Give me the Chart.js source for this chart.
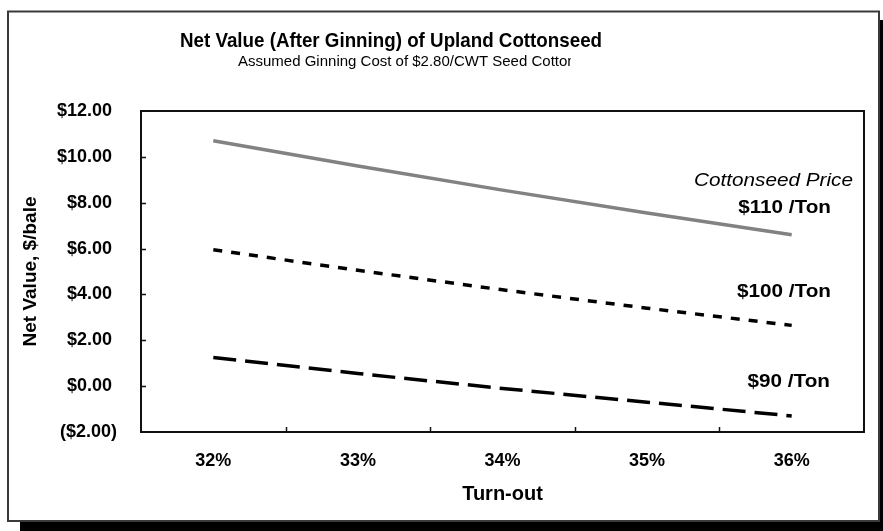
<!DOCTYPE html>
<html>
<head>
<meta charset="utf-8">
<script src="https://cdn.jsdelivr.net/npm/chart.js@4.4.1/dist/chart.umd.min.js"></script>
<style>
  html, body { margin: 0; padding: 0; background: #fff; overflow: hidden; }
  canvas { display: block; }
</style>
</head>
<body>
<canvas id="c" width="883" height="531"></canvas>
<script>
// Turn-out categories and net value per bale ($) at three cottonseed prices
const turnout = ['32%', '33%', '34%', '35%', '36%'];
const net110 = [10.70, 9.60, 8.55, 7.55, 6.60];
const net100 = [5.95, 5.05, 4.20, 3.40, 2.65];
const net90 = [1.25, 0.55, -0.10, -0.70, -1.30];
const priceLabels = ['$110 /Ton', '$100 /Ton', '$90 /Ton'];

// Value axis range
const yMin = -2;
const yMax = 12;
const yStep = 2;

const FONT = "'Liberation Sans', Arial, Helvetica, sans-serif";

function money(v) {
  // accounting style: negatives in parentheses, positives padded by a space
  return v < 0 ? '($' + Math.abs(v).toFixed(2) + ')' : '$' + v.toFixed(2) + ' ';
}

function drawText(ctx, str, x, y, font, align, sx) {
  ctx.save();
  ctx.font = font;
  ctx.textAlign = align;
  ctx.textBaseline = 'alphabetic';
  ctx.translate(x, y);
  ctx.scale(sx, 1);
  ctx.fillText(str, 0, 0);
  ctx.restore();
}

const framePlugin = {
  id: 'frame',
  beforeDraw(chart) {
    const ctx = chart.ctx;
    ctx.save();
    ctx.fillStyle = '#fff';
    ctx.fillRect(0, 0, chart.width, chart.height);
    // drop shadow
    ctx.fillStyle = '#000';
    ctx.fillRect(20, 20, 870, 520);
    // chart panel
    ctx.fillStyle = '#fff';
    ctx.fillRect(8, 11, 871, 510);
    ctx.strokeStyle = '#3a3a3a';
    ctx.lineWidth = 2;
    ctx.strokeRect(8, 11.5, 871, 509.5);
    ctx.restore();
  },
  afterDraw(chart) {
    const { ctx, chartArea: a, scales: { x, y } } = chart;
    ctx.save();
    // plot box
    ctx.strokeStyle = '#111';
    ctx.lineWidth = 2;
    ctx.strokeRect(a.left, a.top, a.right - a.left, a.bottom - a.top);
    // inward tick marks
    ctx.lineWidth = 1.5;
    ctx.beginPath();
    y.ticks.forEach(t => {
      const py = Math.round(y.getPixelForValue(t.value)) + 0.5;
      if (py > a.top + 2 && py < a.bottom - 2) {
        ctx.moveTo(a.left, py);
        ctx.lineTo(a.left + 5, py);
      }
    });
    for (let i = 0; i < turnout.length - 1; i++) {
      const px = Math.round((x.getPixelForTick(i) + x.getPixelForTick(i + 1)) / 2) + 0.5;
      ctx.moveTo(px, a.bottom);
      ctx.lineTo(px, a.bottom - 5);
    }
    ctx.stroke();

    // titles
    ctx.fillStyle = '#000';
    drawText(ctx, 'Net Value (After Ginning) of Upland Cottonseed', 391, 47,
      'bold 20.5px ' + FONT, 'center', 0.915);
    ctx.save();
    ctx.beginPath();
    ctx.rect(200, 40, 371, 40);
    ctx.clip();
    drawText(ctx, 'Assumed Ginning Cost of $2.80/CWT Seed Cotton', 238, 65.5,
      '15px ' + FONT, 'left', 1);
    ctx.restore();

    // price labels
    drawText(ctx, 'Cottonseed Price', 853, 186, 'italic 18.5px ' + FONT, 'right', 1.12);
    drawText(ctx, priceLabels[0], 831, 213, 'bold 19px ' + FONT, 'right', 1.09);
    drawText(ctx, priceLabels[1], 831, 297, 'bold 19px ' + FONT, 'right', 1.09);
    drawText(ctx, priceLabels[2], 830, 386.5, 'bold 19px ' + FONT, 'right', 1.09);
    ctx.restore();
  }
};

new Chart(document.getElementById('c'), {
  type: 'line',
  data: {
    labels: turnout,
    datasets: [
      {
        label: priceLabels[0], data: net110,
        borderColor: '#828282', borderWidth: 3.5,
        pointRadius: 0, tension: 0, fill: false
      },
      {
        label: priceLabels[1], data: net100,
        borderColor: '#000', borderWidth: 3.5, borderDash: [9, 9],
        borderCapStyle: 'butt',
        pointRadius: 0, tension: 0, fill: false
      },
      {
        label: priceLabels[2], data: net90,
        borderColor: '#000', borderWidth: 3.5, borderDash: [23, 9],
        borderCapStyle: 'butt',
        pointRadius: 0, tension: 0, fill: false
      }
    ]
  },
  options: {
    responsive: false,
    animation: false,
    devicePixelRatio: 1,
    layout: { padding: { left: 0, top: 111, right: 19, bottom: 0 } },
    plugins: {
      legend: { display: false },
      tooltip: { enabled: false },
      title: { display: false }
    },
    scales: {
      x: {
        type: 'category',
        offset: true,
        grid: { display: false, drawTicks: false },
        border: { display: false },
        ticks: {
          color: '#000',
          font: { family: FONT, size: 18, weight: 'bold' },
          padding: 18,
          maxRotation: 0
        },
        title: {
          display: true,
          text: 'Turn-out',
          color: '#000',
          font: { family: FONT, size: 20, weight: 'bold' },
          padding: { top: 0, bottom: 25 }
        },
        afterFit(scale) { scale.height = 99; }
      },
      y: {
        min: yMin,
        max: yMax,
        grid: { display: false, drawTicks: false },
        border: { display: false },
        ticks: {
          stepSize: yStep,
          color: '#000',
          font: { family: FONT, size: 18, weight: 'bold' },
          padding: 24,
          callback: v => money(v)
        },
        title: {
          display: true,
          text: 'Net Value, $/bale',
          color: '#000',
          font: { family: FONT, size: 19, weight: 'bold' },
          padding: { top: 19, bottom: 0 }
        },
        afterFit(scale) { scale.width = 141; }
      }
    }
  },
  plugins: [framePlugin]
});
</script>
</body>
</html>
